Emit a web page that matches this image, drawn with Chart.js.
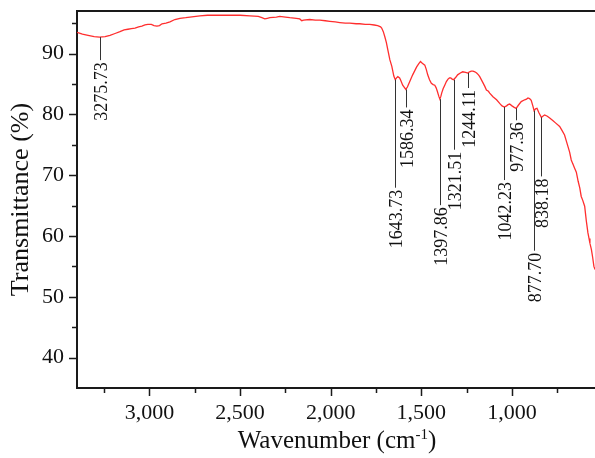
<!DOCTYPE html>
<html><head><meta charset="utf-8">
<script src="https://cdn.jsdelivr.net/npm/chart.js@4.4.1/dist/chart.umd.min.js"></script>
<style>html,body{margin:0;padding:0;background:#fff}#wrap{width:595px;height:458px;position:relative}</style>
</head><body><div id="wrap"><canvas id="c" width="595" height="458"></canvas></div>
<script>
// ---- data ----
const wavenumber = [3400,3370,3339,3305,3276,3245,3218,3190,3163,3140,3119,3100,3080,3060,3042,3025,3009,2990,2975,2959,2945,2931,2909,2887,2860,2832,2800,2777,2722,2680,2639,2556,2500,2446,2400,2380,2364,2350,2336,2300,2281,2250,2226,2190,2171,2160,2150,2116,2085,2060,2030,2005,1975,1950,1920,1895,1860,1840,1810,1785,1760,1741,1725,1719,1710,1702,1693,1685,1674,1663,1652,1644,1637,1630,1620,1614,1603,1586,1577,1570,1548,1526,1515,1505,1495,1481,1473,1465,1455,1445,1435,1426,1419,1412,1404,1398,1392,1388,1380,1371,1362,1353,1345,1338,1330,1322,1310,1300,1285,1272,1256,1244,1234,1225,1215,1205,1195,1185,1178,1162,1150,1141,1130,1123,1105,1085,1068,1055,1042,1030,1022,1013,1000,990,977,965,949,930,920,912,903,894,885,878,870,862,852,838,830,820,805,792,775,760,737,725,710,700,691,682,673,665,655,645,635,626,618,610,599,590,581,575,570,562,555,548,542];
const transmittance = [93.5,93.2,93.0,92.8,92.7,92.8,93.0,93.3,93.6,93.9,94.0,94.1,94.2,94.4,94.5,94.7,94.8,94.8,94.6,94.5,94.6,94.9,95.0,95.2,95.6,95.8,95.9,96.0,96.2,96.3,96.3,96.3,96.3,96.2,96.1,95.9,95.7,95.8,95.9,96.0,96.1,96.0,95.9,95.8,95.7,95.4,95.5,95.6,95.5,95.5,95.4,95.3,95.2,95.1,95.0,95.0,94.9,94.9,94.8,94.8,94.7,94.6,94.4,94.2,93.6,92.8,91.8,90.6,89.0,87.9,86.3,85.7,86.0,86.2,86.0,85.6,84.8,84.1,84.5,85.0,86.5,87.8,88.3,88.7,88.4,88.1,87.4,86.5,85.7,85.1,84.9,84.8,84.4,83.8,83.0,82.5,83.0,83.5,84.2,84.8,85.4,85.8,86.0,86.0,85.8,85.7,86.1,86.5,86.8,87.0,86.9,86.8,87.0,87.1,87.1,87.0,86.8,86.5,86.2,85.3,84.6,84.0,83.8,83.5,82.9,82.4,81.8,81.4,81.2,81.4,81.6,81.7,81.4,81.2,81.0,81.5,82.1,82.4,82.5,82.7,82.6,82.3,81.4,80.6,80.9,81.0,80.3,79.5,79.7,79.9,79.7,79.4,79.0,78.6,78.0,77.4,76.6,75.6,74.7,73.8,72.5,71.9,71.2,70.5,69.0,67.9,66.5,65.9,64.9,62.5,60.5,59.6,58.8,57.8,56.5,55.0,54.5];

const xTickValues = [3000,2500,2000,1500,1000];
const xMinorTicks = [3250,2750,2250,1750,1250,750];
const yTickValues = [40,50,60,70,80,90];
const yMinorTicks = [45,55,65,75,85,95];

const peakLabels = ['3275.73','1643.73','1586.34','1397.86','1321.51','1244.11','1042.23','977.36','877.70','838.18'];
const peakWavenumbers = [3275.73,1643.73,1586.34,1397.86,1321.51,1244.11,1042.23,977.36,877.70,838.18];
const peakTransmittance = [92.7,85.7,84.1,82.5,85.7,86.8,81.2,81.0,80.6,79.5];

// ---- styling (not data) ----
const leaderLengths = [23,108,18,106,70,15,73,12,140,59];
const SERIF = '"Liberation Serif","Times New Roman",serif';
const AXIS_COLOR = '#1a1a1a';

const points = wavenumber.map((w, i) => ({x: w, y: transmittance[i]}));

const decor = {
  id: 'decor',
  afterDraw(chart) {
    const ctx = chart.ctx;
    const xs = chart.scales.x, ys = chart.scales.y;
    const a = chart.chartArea;
    ctx.save();
    // top border
    ctx.strokeStyle = AXIS_COLOR;
    ctx.lineWidth = 2;
    ctx.beginPath();
    ctx.moveTo(a.left - 1, a.top);
    ctx.lineTo(a.right, a.top);
    ctx.stroke();
    // ticks
    ctx.lineWidth = 1.5;
    ctx.beginPath();
    xTickValues.forEach(v => { const px = Math.round(xs.getPixelForValue(v)) + 0.5; ctx.moveTo(px, a.bottom); ctx.lineTo(px, a.bottom + 8); });
    xMinorTicks.forEach(v => { const px = Math.round(xs.getPixelForValue(v)) + 0.5; ctx.moveTo(px, a.bottom); ctx.lineTo(px, a.bottom + 5); });
    yTickValues.forEach(v => { const py = Math.round(ys.getPixelForValue(v)) + 0.5; ctx.moveTo(a.left, py); ctx.lineTo(a.left - 8, py); });
    yMinorTicks.forEach(v => { const py = Math.round(ys.getPixelForValue(v)) + 0.5; ctx.moveTo(a.left, py); ctx.lineTo(a.left - 5, py); });
    ctx.stroke();

    // peak annotations
    ctx.strokeStyle = '#333';
    ctx.lineWidth = 1;
    ctx.fillStyle = '#111';
    ctx.font = '18px ' + SERIF;
    peakWavenumbers.forEach((w, i) => {
      const px = Math.round(xs.getPixelForValue(w)) + 0.5;
      const py = ys.getPixelForValue(peakTransmittance[i]);
      const end = py + leaderLengths[i];
      ctx.beginPath();
      ctx.moveTo(px, py);
      ctx.lineTo(px, end);
      ctx.stroke();
      ctx.save();
      ctx.translate(px, end + 2);
      ctx.rotate(-Math.PI / 2);
      ctx.textAlign = 'right';
      ctx.textBaseline = 'alphabetic';
      ctx.fillText(peakLabels[i], 0, 6);
      ctx.restore();
    });

    // x title with superscript
    ctx.fillStyle = '#111';
    const big = '25px ' + SERIF, small = '15px ' + SERIF;
    const t1 = 'Wavenumber (cm', t2 = '-1', t3 = ')';
    ctx.font = big; const w1 = ctx.measureText(t1).width, w3 = ctx.measureText(t3).width;
    ctx.font = small; const w2 = ctx.measureText(t2).width;
    const total = w1 + w2 + w3;
    let x0 = (a.left + a.right) / 2 - total / 2 + 1;
    const base = 448;
    ctx.textAlign = 'left'; ctx.textBaseline = 'alphabetic';
    ctx.font = big; ctx.fillText(t1, x0, base);
    ctx.font = small; ctx.fillText(t2, x0 + w1, base - 9);
    ctx.font = big; ctx.fillText(t3, x0 + w1 + w2, base);

    // y title
    ctx.save();
    ctx.translate(27.5, (a.top + a.bottom) / 2);
    ctx.rotate(-Math.PI / 2);
    ctx.textAlign = 'center';
    ctx.font = '26px ' + SERIF;
    ctx.fillText('Transmittance (%)', 0, 0);
    ctx.restore();
    ctx.restore();
  }
};

new Chart(document.getElementById('c'), {
  type: 'scatter',
  data: { datasets: [{
    data: points,
    showLine: true,
    borderColor: '#ff2e2e',
    borderWidth: 1.3,
    pointRadius: 0,
    tension: 0
  }]},
  options: {
    responsive: false,
    animation: false,
    devicePixelRatio: 1,
    layout: { autoPadding: false, padding: { top: 11, right: 0, left: 0, bottom: 0 } },
    plugins: { legend: { display: false }, tooltip: { enabled: false } },
    scales: {
      x: {
        type: 'linear', reverse: true, min: 542, max: 3400,
        afterFit(s) { s.height = 70; s.paddingLeft = 0; s.paddingRight = 0; },
        afterBuildTicks(s) { s.ticks = xTickValues.map(v => ({value: v})); },
        grid: { drawOnChartArea: false, drawTicks: false },
        border: { display: true, color: AXIS_COLOR, width: 2 },
        ticks: { color: '#111', font: { family: SERIF, size: 22 }, padding: 12, maxRotation: 0,
          callback: v => v.toLocaleString('en-US') }
      },
      y: {
        type: 'linear', min: 35, max: 97,
        afterFit(s) { s.width = 77; s.paddingTop = 0; s.paddingBottom = 0; },
        afterBuildTicks(s) { s.ticks = yTickValues.map(v => ({value: v})); },
        grid: { drawOnChartArea: false, drawTicks: false },
        border: { display: true, color: AXIS_COLOR, width: 2 },
        ticks: { color: '#111', font: { family: SERIF, size: 22 }, padding: 13 }
      }
    }
  },
  plugins: [decor]
});
</script>
</body></html>
